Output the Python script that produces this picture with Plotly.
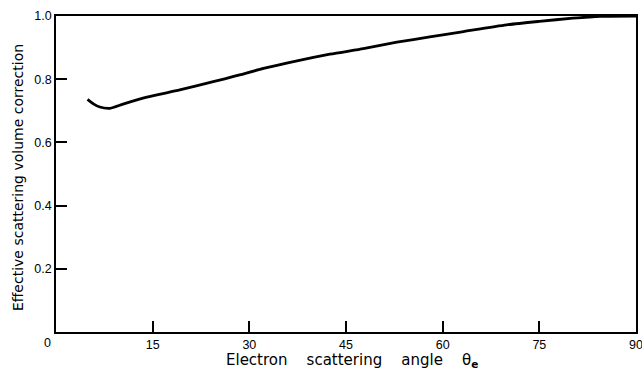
import plotly.graph_objects as go

# Electron scattering angle (degrees)
theta = [4.9, 5.8, 6.8, 8.4, 10.4, 14.1, 19.2, 24.4, 28.0, 32.2, 37.4, 42.5,
         47.7, 52.9, 58.0, 63.0, 69.9, 75.0, 80.2, 84.5, 90.0]
# Effective scattering volume correction
correction = [0.736, 0.722, 0.712, 0.708, 0.721, 0.743, 0.766, 0.792, 0.811, 0.834, 0.858, 0.879,
              0.897, 0.917, 0.934, 0.950, 0.972, 0.983, 0.993, 0.999, 1.000]

x_ticks = [0, 15, 30, 45, 60, 75, 90]
x_tick_labels = ["", "15", "30", "45", "60", "75", "90"]
y_ticks = [0.2, 0.4, 0.6, 0.8, 1.0]
y_tick_labels = ["0.2", "0.4", "0.6", "0.8", "1.0"]

title_font = "DejaVu Sans"
tick_font = "Liberation Sans"
gap = "\u00a0\u00a0\u00a0 "

fig = go.Figure()
fig.add_trace(go.Scatter(
    x=theta, y=correction, mode="lines",
    line=dict(color="black", width=2.8, shape="spline", smoothing=0.6),
    showlegend=False, hoverinfo="skip",
))

axis_common = dict(
    ticks="inside", ticklen=11, tickwidth=1.5, tickcolor="black",
    showline=True, linecolor="black", linewidth=1.5, mirror=True,
    showgrid=False, zeroline=False, automargin=False,
    ticklabeloverflow="allow",
    tickfont=dict(family=tick_font, size=12.5, color="black"),
)

fig.update_layout(
    width=642, height=370,
    margin=dict(l=56, r=6, t=16, b=38),
    paper_bgcolor="white", plot_bgcolor="white",
    font=dict(family=title_font, size=13, color="black"),
    xaxis=dict(range=[0, 90], tickvals=x_ticks, ticktext=x_tick_labels, **axis_common),
    yaxis=dict(range=[0, 1.0], tickvals=y_ticks, ticktext=y_tick_labels, **axis_common),
    annotations=[
        dict(text="0", xref="paper", yref="paper", x=-0.0155, y=-0.035,
             xanchor="center", yanchor="middle", showarrow=False,
             font=dict(family=tick_font, size=12.5, color="black")),
        dict(text="Electron" + gap + "scattering" + gap + "angle" + gap + "θ<sub><b>e</b></sub>",
             xref="paper", yref="paper",
             x=0.511, y=-0.058, xanchor="center", yanchor="top", showarrow=False,
             borderpad=0,
             font=dict(family=title_font, size=15, color="black")),
        dict(text="Effective scattering volume correction", xref="paper", yref="paper",
             x=-0.0655, y=0.487, xanchor="center", yanchor="middle", showarrow=False,
             textangle=-90, font=dict(family=title_font, size=14, color="black")),
    ],
)

fig.write_html(
    "out.html",
    config={"displayModeBar": False},
    post_script="document.body.style.margin='0';document.body.style.padding='0';"
                "document.body.style.overflow='hidden';",
)
